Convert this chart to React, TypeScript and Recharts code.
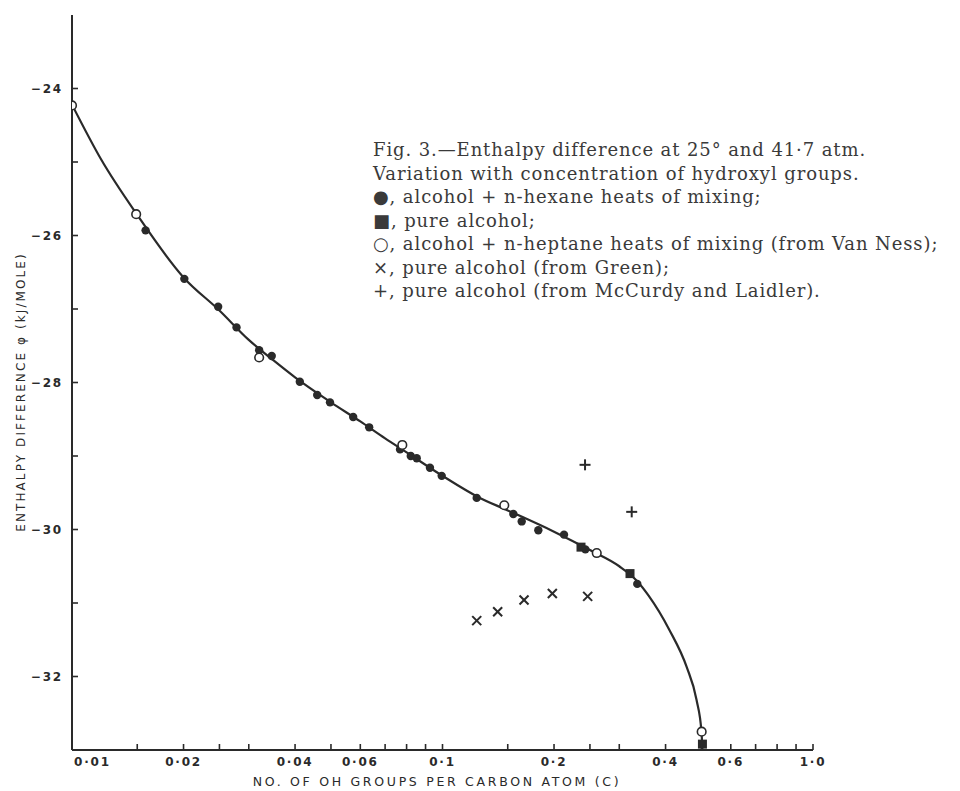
import React from 'react';
import { ComposedChart, Line, Scatter, XAxis, YAxis } from 'recharts';

// smooth curve drawn through the points
const curvePoints = [
  [0.01, -24.22], [0.012, -24.97], [0.015, -25.72], [0.02, -26.57], [0.025, -27.02],
  [0.03, -27.42], [0.035, -27.7], [0.04, -27.93], [0.05, -28.27], [0.06, -28.53],
  [0.07, -28.76], [0.08, -28.95], [0.1, -29.27], [0.125, -29.56], [0.15, -29.74],
  [0.2, -30.03], [0.25, -30.28], [0.3, -30.5], [0.335, -30.7], [0.36, -30.9],
  [0.41, -31.37], [0.456, -31.87], [0.485, -32.32], [0.5, -32.75], [0.503, -33.0],
];

// filled circles: alcohol + n-hexane
const hexanePoints = [
  [0.0158, -25.93], [0.0201, -26.59], [0.0248, -26.97], [0.0278, -27.25], [0.032, -27.56],
  [0.0346, -27.64], [0.0412, -27.99], [0.0459, -28.17], [0.0497, -28.27], [0.0574, -28.47],
  [0.0634, -28.61], [0.0768, -28.91], [0.0821, -29.0], [0.0852, -29.03], [0.0925, -29.16],
  [0.0995, -29.27], [0.1237, -29.57], [0.1553, -29.79], [0.1636, -29.89], [0.1814, -30.01],
  [0.2128, -30.07], [0.243, -30.27], [0.3355, -30.74],
];

// filled squares: pure alcohol
const pureAlcoholPoints = [[0.2365, -30.24], [0.3207, -30.6], [0.503, -32.92]];

// open circles: alcohol + n-heptane (Van Ness)
const heptanePoints = [
  [0.01, -24.23], [0.0149, -25.71], [0.032, -27.66], [0.0779, -28.85],
  [0.1468, -29.67], [0.2608, -30.32], [0.5006, -32.75],
];

// crosses: pure alcohol (Green)
const greenPoints = [[0.1237, -31.24], [0.1409, -31.12], [0.166, -30.96], [0.1979, -30.87], [0.2465, -30.91]];

// plus signs: pure alcohol (McCurdy and Laidler)
const mccurdyPoints = [[0.2425, -29.12], [0.3241, -29.76]];

const xTicks = [0.01, 0.015, 0.02, 0.025, 0.03, 0.04, 0.05, 0.06, 0.07, 0.08, 0.09, 0.1,
  0.15, 0.2, 0.25, 0.3, 0.4, 0.5, 0.6, 0.7, 0.8, 0.9, 1];
const xLabelValues = [0.01, 0.02, 0.04, 0.06, 0.1, 0.2, 0.4, 0.6, 1];
const xLabelTexts = ['0·01', '0·02', '0·04', '0·06', '0·1', '0·2', '0·4', '0·6', '1·0'];

const yTicks = [-32, -31, -30, -29, -28, -27, -26, -25, -24];
const yLabelValues = [-32, -30, -28, -26, -24];
const yLabelTexts = ['−32', '−30', '−28', '−26', '−24'];

const captionLines = [
  'Fig. 3.—Enthalpy difference at 25° and 41·7 atm.',
  'Variation with concentration of hydroxyl groups.',
  '●, alcohol + n-hexane heats of mixing;',
  '■, pure alcohol;',
  '○, alcohol + n-heptane heats of mixing (from Van Ness);',
  '×, pure alcohol (from Green);',
  '+, pure alcohol (from McCurdy and Laidler).',
];

const toXY = (pts: number[][]) => pts.map(([x, y]) => ({ x, y }));

const INK = '#2a2a2a';
const tickFont = { fontFamily: '"DejaVu Sans", sans-serif', fontSize: 12, letterSpacing: 1.8, fontWeight: 600 };

const XTick = (props: any) => {
  const { x, y, payload } = props;
  const i = xLabelValues.indexOf(payload.value);
  const first = payload.value === xTicks[0];
  return (
    <g>
      {!first && <line x1={x} x2={x} y1={y} y2={y - 6} stroke={INK} strokeWidth={1.6} />}
      {i >= 0 && (
        <text x={first ? x + 2 : x} y={y + 16} textAnchor={first ? 'start' : 'middle'} fill={INK} style={tickFont}>
          {xLabelTexts[i]}
        </text>
      )}
    </g>
  );
};

const YTick = (props: any) => {
  const { x, y, payload } = props;
  const i = yLabelValues.indexOf(payload.value);
  return (
    <g>
      <line x1={x} x2={x + 6} y1={y} y2={y} stroke={INK} strokeWidth={1.6} />
      {i >= 0 && (
        <text x={x - 9} y={y + 4} textAnchor="end" fill={INK} style={tickFont}>
          {yLabelTexts[i]}
        </text>
      )}
    </g>
  );
};

const FilledDot = (p: any) => <circle cx={p.cx} cy={p.cy} r={4.2} fill={INK} />;
const OpenDot = (p: any) => <circle cx={p.cx} cy={p.cy} r={4.3} fill="#fff" stroke={INK} strokeWidth={1.6} />;
const Square = (p: any) => <rect x={p.cx - 4.5} y={p.cy - 4.5} width={9} height={9} fill={INK} />;
const Cross = (p: any) => (
  <g stroke={INK} strokeWidth={2}>
    <line x1={p.cx - 4.5} y1={p.cy - 4.5} x2={p.cx + 4.5} y2={p.cy + 4.5} />
    <line x1={p.cx - 4.5} y1={p.cy + 4.5} x2={p.cx + 4.5} y2={p.cy - 4.5} />
  </g>
);
const Plus = (p: any) => (
  <g stroke={INK} strokeWidth={2}>
    <line x1={p.cx - 5.5} y1={p.cy} x2={p.cx + 5.5} y2={p.cy} />
    <line x1={p.cx} y1={p.cy - 5.5} x2={p.cx} y2={p.cy + 5.5} />
  </g>
);

export default function App() {
  return (
    <div style={{ position: 'absolute', left: 0, top: 0, width: 960, height: 791, background: '#fff' }}>
      <ComposedChart width={960} height={791} margin={{ top: 15, right: 147, bottom: 11, left: 12 }}>
        <XAxis
          dataKey="x"
          type="number"
          scale="log"
          domain={[0.01, 1]}
          ticks={xTicks}
          interval={0}
          height={30}
          tickSize={0}
          tickMargin={0}
          tick={<XTick />}
          axisLine={{ stroke: INK, strokeWidth: 2 }}
          allowDataOverflow
        />
        <YAxis
          dataKey="y"
          type="number"
          domain={[-33, -23]}
          ticks={yTicks}
          interval={0}
          width={60}
          tickSize={0}
          tickMargin={0}
          tick={<YTick />}
          axisLine={{ stroke: INK, strokeWidth: 2 }}
          allowDataOverflow
        />
        <Line
          data={toXY(curvePoints)}
          dataKey="y"
          type="monotone"
          stroke={INK}
          strokeWidth={2.2}
          dot={false}
          activeDot={false}
          isAnimationActive={false}
        />
        <Scatter data={toXY(hexanePoints)} dataKey="y" shape={<FilledDot />} isAnimationActive={false} />
        <Scatter data={toXY(pureAlcoholPoints)} dataKey="y" shape={<Square />} isAnimationActive={false} />
        <Scatter data={toXY(heptanePoints)} dataKey="y" shape={<OpenDot />} isAnimationActive={false} />
        <Scatter data={toXY(greenPoints)} dataKey="y" shape={<Cross />} isAnimationActive={false} />
        <Scatter data={toXY(mccurdyPoints)} dataKey="y" shape={<Plus />} isAnimationActive={false} />
      </ComposedChart>

      <div
        style={{
          position: 'absolute',
          left: 373,
          top: 138,
          fontFamily: '"DejaVu Serif", serif',
          fontSize: 18,
          letterSpacing: 0.9,
          lineHeight: '23.5px',
          color: '#3a3a3a',
          whiteSpace: 'nowrap',
        }}
      >
        {captionLines.map((t) => (
          <div key={t}>{t}</div>
        ))}
      </div>

      <div
        style={{
          position: 'absolute',
          left: 437,
          top: 781,
          transform: 'translate(-50%, -50%)',
          fontFamily: '"DejaVu Sans", sans-serif',
          fontSize: 12.5,
          letterSpacing: 2.7,
          color: INK,
          whiteSpace: 'nowrap',
        }}
      >
        NO. OF OH GROUPS PER CARBON ATOM (C)
      </div>

      <div
        style={{
          position: 'absolute',
          left: 21,
          top: 392,
          transform: 'translate(-50%, -50%) rotate(-90deg)',
          fontFamily: '"DejaVu Sans", sans-serif',
          fontSize: 12,
          letterSpacing: 2.1,
          color: INK,
          whiteSpace: 'nowrap',
        }}
      >
        ENTHALPY DIFFERENCE φ (kJ/MOLE)
      </div>
    </div>
  );
}
